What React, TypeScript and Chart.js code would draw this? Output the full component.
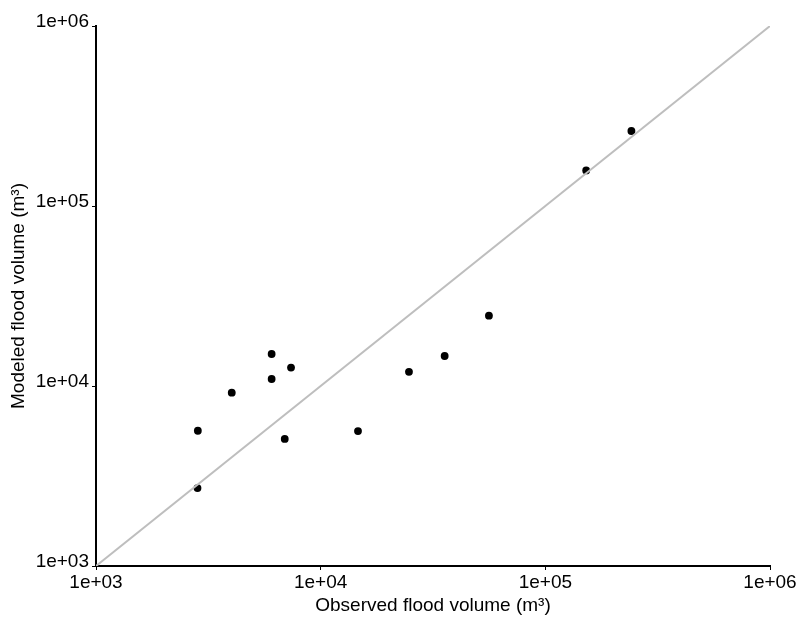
import React, { useEffect, useRef } from 'react';
import { Chart, registerables } from 'chart.js';

Chart.register(...registerables);

const observed = [2840, 2830, 4020, 6050, 6050, 7380, 6920, 14660, 24720, 35640, 56100, 152000, 241600];
const modeled = [5640, 2710, 9180, 15060, 10940, 12650, 5080, 5620, 11990, 14680, 24600, 157700, 261000];
const tickValues = [1e3, 1e4, 1e5, 1e6];
const tickLabels = ['1e+03', '1e+04', '1e+05', '1e+06'];
const oneToOne = [1e3, 1e6];
const xTitle = 'Observed flood volume (m³)';
const yTitle = 'Modeled flood volume (m³)';

const FONT = 'Liberation Sans, Arial, sans-serif';
const SIZE = 19;

export default function App() {
  const ref = useRef<HTMLCanvasElement | null>(null);
  useEffect(() => {
    if (!ref.current) return;
    const setTicks = (scale: any) => {
      scale.ticks = tickValues.map((v) => ({ value: v }));
    };
    const label = (v: any) => {
      const i = tickValues.indexOf(Number(v));
      return i >= 0 ? tickLabels[i] : '';
    };
    const chart = new Chart(ref.current, {
      type: 'scatter',
      data: {
        datasets: [
          {
            type: 'line',
            data: oneToOne.map((v) => ({ x: v, y: v })),
            borderColor: '#bebebe',
            borderWidth: 2,
            pointRadius: 0,
            showLine: true,
            fill: false,
          } as any,
          {
            data: observed.map((x, i) => ({ x, y: modeled[i] })),
            backgroundColor: '#000',
            borderColor: '#000',
            borderWidth: 0,
            pointRadius: 3.9,
          },
        ],
      },
      options: {
        responsive: false,
        animation: false,
        events: [],
        layout: { padding: { left: 0, top: 26, right: 40, bottom: 0 } },
        plugins: { legend: { display: false }, tooltip: { enabled: false } },
        scales: {
          x: {
            type: 'logarithmic',
            min: 1e3,
            max: 1e6,
            afterBuildTicks: setTicks,
            afterFit: (s: any) => { s.height = 64; },
            grid: { drawOnChartArea: false, drawTicks: true, tickLength: 4, color: '#000', lineWidth: 1 },
            border: { display: true, color: '#000', width: 2 },
            ticks: {
              callback: label,
              color: '#000',
              font: { family: FONT, size: SIZE },
              padding: 1,
              maxRotation: 0,
              autoSkip: false,
            },
            title: {
              display: true,
              text: xTitle,
              color: '#000',
              font: { family: FONT, size: SIZE },
              padding: { top: 0, bottom: 12.5 },
            },
          },
          y: {
            type: 'logarithmic',
            min: 1e3,
            max: 1e6,
            afterBuildTicks: setTicks,
            afterFit: (s: any) => { s.width = 96; },
            grid: { drawOnChartArea: false, drawTicks: true, tickLength: 4, color: '#000', lineWidth: 1 },
            border: { display: true, color: '#000', width: 2 },
            ticks: {
              callback: label,
              color: '#000',
              font: { family: FONT, size: SIZE },
              padding: 3,
              labelOffset: -4,
              autoSkip: false,
            },
            title: {
              display: true,
              text: yTitle,
              color: '#000',
              font: { family: FONT, size: SIZE },
              padding: { top: 7.5, bottom: 0 },
            },
          },
        },
      },
    });
    return () => chart.destroy();
  }, []);
  return (
    <canvas
      ref={ref}
      width={810}
      height={630}
      style={{ position: 'fixed', left: 0, top: 0, width: 810, height: 630, display: 'block' }}
    />
  );
}
